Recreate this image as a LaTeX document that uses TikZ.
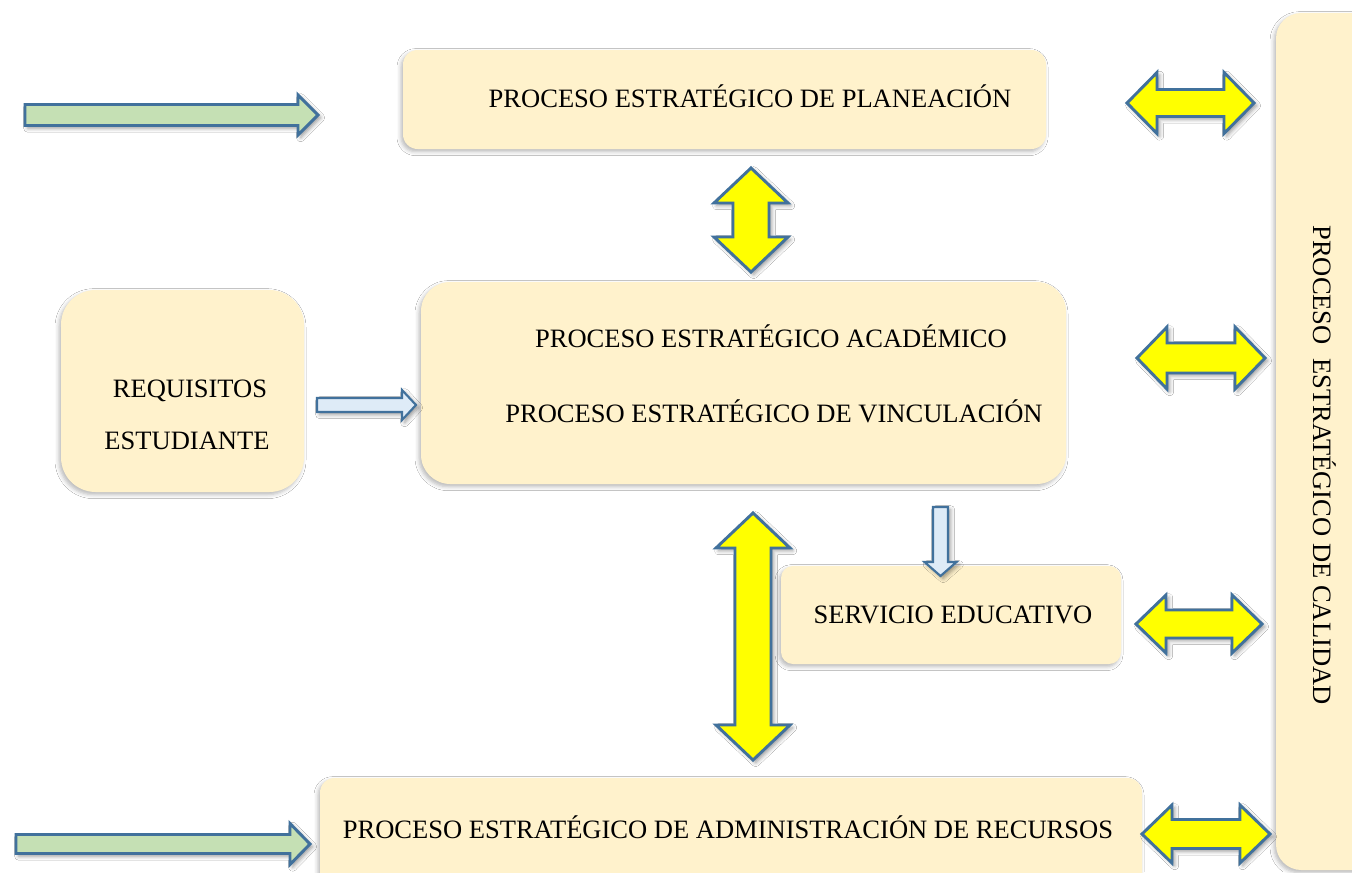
\documentclass[tikz,border=0pt]{standalone}
\usepackage{fontspec}
\setmainfont{Liberation Serif}
\usetikzlibrary{shadows.blur}
\definecolor{boxfill}{HTML}{FFF2CC}
\definecolor{arrline}{HTML}{41719C}
\definecolor{yel}{HTML}{FFFF00}
\definecolor{grn}{HTML}{C5E0B4}
\definecolor{lblue}{HTML}{DEEBF7}
\tikzset{
  box/.style={fill=boxfill, draw=none, inner sep=0pt,
    blur shadow={shadow xshift=-1.5pt, shadow yshift=-2pt, shadow opacity=28, shadow blur radius=3pt}},
  lbl/.style={font=\fontsize{19.9}{24}\selectfont, inner sep=0pt, anchor=base},
  arr/.style={draw=arrline, line width=2.2pt, line join=miter,
    blur shadow={shadow xshift=2pt, shadow yshift=-2pt, shadow opacity=40, shadow blur radius=3pt}},
  yarr/.style={arr, fill=yel},
  garr/.style={arr, fill=grn},
  barr/.style={arr, fill=lblue, line width=1.6pt}
}
% horizontal double arrow: style, x1, x2, y, head length, head half, shaft half
\newcommand\hdarr[7]{\draw[#1] (#2,#4) -- (#2+#5,#4-#6) -- (#2+#5,#4-#7) -- (#3-#5,#4-#7) -- (#3-#5,#4-#6) -- (#3,#4) -- (#3-#5,#4+#6) -- (#3-#5,#4+#7) -- (#2+#5,#4+#7) -- (#2+#5,#4+#6) -- cycle;}
% vertical double arrow: style, x, y1, y2, head length, head half, shaft half
\newcommand\vdarr[7]{\draw[#1] (#2,#3) -- (#2+#6,#3+#5) -- (#2+#7,#3+#5) -- (#2+#7,#4-#5) -- (#2+#6,#4-#5) -- (#2,#4) -- (#2-#6,#4-#5) -- (#2-#7,#4-#5) -- (#2-#7,#3+#5) -- (#2-#6,#3+#5) -- cycle;}
% right arrow
\newcommand\rarr[7]{\draw[#1] (#2,#4-#7) -- (#3-#5,#4-#7) -- (#3-#5,#4-#6) -- (#3,#4) -- (#3-#5,#4+#6) -- (#3-#5,#4+#7) -- (#2,#4+#7) -- cycle;}
% down arrow
\newcommand\darr[7]{\draw[#1] (#2-#7,#3) -- (#2+#7,#3) -- (#2+#7,#4-#5) -- (#2+#6,#4-#5) -- (#2,#4) -- (#2-#6,#4-#5) -- (#2-#7,#4-#5) -- cycle;}
\begin{document}
\begin{tikzpicture}[x=0.75pt,y=-0.75pt]
\useasboundingbox (0,0) rectangle (1352,872);
\fill[white] (0,0) rectangle (1352,872);

% boxes
\node[box, rounded corners=11pt, minimum width={643*0.75pt}, minimum height={99*0.75pt}] (plan) at (724.5,99.5) {};
\node[box, rounded corners=22pt, minimum width={645*0.75pt}, minimum height={202*0.75pt}] (acad) at (743.5,383) {};
\node[box, rounded corners=26pt, minimum width={243*0.75pt}, minimum height={202*0.75pt}] (req) at (182.5,391) {};
\node[box, rounded corners=9pt, minimum width={340*0.75pt}, minimum height={98*0.75pt}] (serv) at (951,615) {};
\node[box, rounded corners=11pt, minimum width={822*0.75pt}, minimum height={122*0.75pt}] (admin) at (731,839) {};
\node[box, rounded corners=19pt, minimum width={104*0.75pt}, minimum height={857*0.75pt}] (cal) at (1328,441.5) {};

% texts
\node[lbl] (tplan) at (750,107) {PROCESO ESTRATÉGICO DE PLANEACIÓN};
\node[lbl] (tacad) at (771,347) {PROCESO ESTRATÉGICO ACADÉMICO};
\node[lbl] (tvinc) at (774,422) {PROCESO ESTRATÉGICO DE VINCULACIÓN};
\node[lbl] (treq1) at (190,397) {REQUISITOS};
\node[lbl] (treq2) at (187,449) {ESTUDIANTE};
\node[lbl] (tserv) at (953,623) {SERVICIO EDUCATIVO};
\node[lbl] (tadmin) at (728,838) {PROCESO ESTRATÉGICO DE ADMINISTRACIÓN DE RECURSOS};
\node[lbl, rotate=-90] (tcal) at (1313,465) {PROCESO\ \ ESTRATÉGICO DE CALIDAD};

% arrows
\rarr{garr}{25}{318}{115}{20}{20}{10.5}
\rarr{garr}{16}{310}{844}{20}{20.5}{9.5}
\rarr{barr}{317}{416}{405}{14}{15}{7}
\darr{barr}{940.5}{507}{576}{14}{16}{7.5}

\hdarr{yarr}{1127}{1254}{103}{30}{30.5}{13.5}
\hdarr{yarr}{1137}{1265}{358}{30}{31}{15}
\hdarr{yarr}{1136}{1262}{624}{30}{29}{14}
\hdarr{yarr}{1142}{1270}{834}{30}{29}{14.5}

\vdarr{yarr}{751}{168}{272}{35}{37}{18}
\vdarr{yarr}{753}{513}{760}{35}{37}{18}
\end{tikzpicture}
\end{document}
